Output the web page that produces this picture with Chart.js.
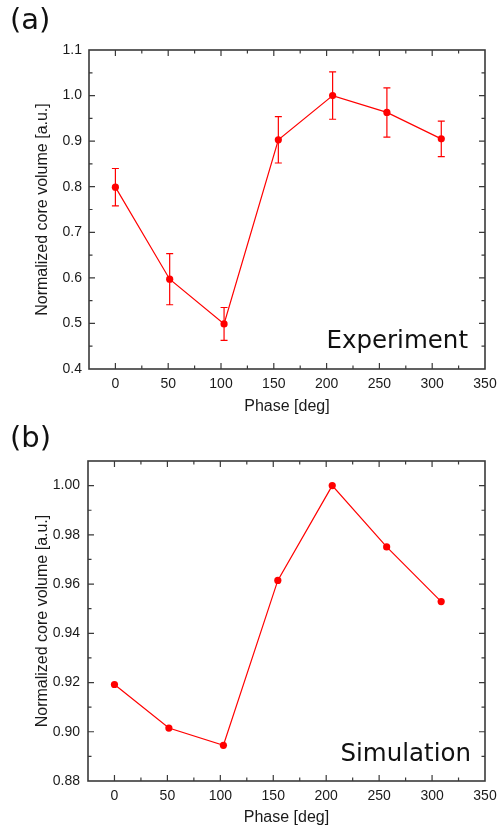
<!DOCTYPE html>
<html><head><meta charset="utf-8">
<script src="https://cdn.jsdelivr.net/npm/chart.js@4/dist/chart.umd.min.js"></script>
<style>
html,body{margin:0;padding:0;background:#fff;}
#wrap{position:relative;width:499px;height:833px;overflow:hidden;background:#fff;}
.box{position:absolute;left:0;width:499px;}
.lbl{position:absolute;font-family:"DejaVu Sans";color:#111;line-height:1;white-space:nowrap;}
</style></head><body>
<div id="wrap">
<div class="box" style="top:0;height:416px"><canvas id="c1"></canvas></div>
<div class="box" style="top:416px;height:417px"><canvas id="c2"></canvas></div>
<div class="lbl" style="left:10px;top:5px;font-size:29px">(a)</div>
<div class="lbl" style="left:10px;top:423px;font-size:29px">(b)</div>
<div class="lbl" style="right:31px;top:328px;font-size:24.5px">Experiment</div>
<div class="lbl" style="right:28px;top:741px;font-size:24.5px">Simulation</div>
</div>
<script>
// ---- data ----
const phases = [0, 51.4, 102.9, 154.3, 205.7, 257.1, 308.6];
const expValues = [0.799, 0.597, 0.499, 0.903, 1.000, 0.963, 0.905];
const expErrors = [0.041, 0.056, 0.036, 0.051, 0.052, 0.054, 0.039];
const simValues = [0.9192, 0.9015, 0.8945, 0.9615, 1.000, 0.9751, 0.9529];
const xTicks = [0, 50, 100, 150, 200, 250, 300, 350];
const expYTicks = [0.4, 0.5, 0.6, 0.7, 0.8, 0.9, 1.0, 1.1];
const simYTicks = [0.88, 0.90, 0.92, 0.94, 0.96, 0.98, 1.00];
const xTitle = 'Phase [deg]';
const yTitle = 'Normalized core volume [a.u.]';

const RED = '#ff0000';
const AXIS = '#3a3a3a';
const TXT = '#1a1a1a';

const framePlugin = {
  id: 'frame',
  afterDraw(chart) {
    const {ctx, chartArea: a, scales: {x, y}} = chart;
    ctx.save();
    ctx.strokeStyle = AXIS;
    ctx.lineWidth = 1.2;
    const xt = x.ticks.map(t => t.value);
    const yt = y.ticks.map(t => t.value);
    const eps = 0.5;
    const drawX = (v, len) => {
      const p = x.getPixelForValue(v);
      if (p <= a.left + eps || p >= a.right - eps) return;
      ctx.beginPath();
      ctx.moveTo(p, a.bottom); ctx.lineTo(p, a.bottom - len);
      ctx.moveTo(p, a.top); ctx.lineTo(p, a.top + len);
      ctx.stroke();
    };
    const drawY = (v, len) => {
      const p = y.getPixelForValue(v);
      if (p <= a.top + eps || p >= a.bottom - eps) return;
      ctx.beginPath();
      ctx.moveTo(a.left, p); ctx.lineTo(a.left + len, p);
      ctx.moveTo(a.right, p); ctx.lineTo(a.right - len, p);
      ctx.stroke();
    };
    xt.forEach(v => drawX(v, 6));
    for (let i = 0; i < xt.length - 1; i++) drawX((xt[i] + xt[i + 1]) / 2, 3.5);
    yt.forEach(v => drawY(v, 6));
    for (let i = 0; i < yt.length - 1; i++) drawY((yt[i] + yt[i + 1]) / 2, 3.5);
    ctx.lineWidth = 1.6;
    ctx.strokeRect(a.left, a.top, a.right - a.left, a.bottom - a.top);
    ctx.restore();
  }
};

const errorPlugin = {
  id: 'errbars',
  beforeDatasetsDraw(chart, args, opts) {
    const errs = opts.errors;
    if (!errs) return;
    const {ctx, scales: {x, y}} = chart;
    const ds = chart.data.datasets[0].data;
    ctx.save();
    ctx.strokeStyle = RED;
    ctx.lineWidth = 1.2;
    ds.forEach((pt, i) => {
      const px = x.getPixelForValue(pt.x);
      const pt1 = y.getPixelForValue(pt.y + errs[i]);
      const pt2 = y.getPixelForValue(pt.y - errs[i]);
      const w = 3.5;
      ctx.beginPath();
      ctx.moveTo(px, pt1); ctx.lineTo(px, pt2);
      ctx.moveTo(px - w, pt1); ctx.lineTo(px + w, pt1);
      ctx.moveTo(px - w, pt2); ctx.lineTo(px + w, pt2);
      ctx.stroke();
    });
    ctx.restore();
  }
};

function makeChart(id, values, errors, yTicks, yMin, yMax, decimals, cfg) {
  return new Chart(document.getElementById(id), {
    type: 'line',
    data: {
      datasets: [{
        data: phases.map((p, i) => ({x: p, y: values[i]})),
        borderColor: RED,
        backgroundColor: RED,
        borderWidth: 1.2,
        pointRadius: 3.6,
        pointBorderWidth: 0,
        pointBackgroundColor: RED,
        tension: 0
      }]
    },
    options: {
      responsive: true,
      maintainAspectRatio: false,
      animation: false,
      events: [],
      layout: {padding: {top: cfg.top, right: 14, left: 0, bottom: 0}},
      plugins: {legend: {display: false}, tooltip: {enabled: false}, errbars: {errors}},
      scales: {
        x: {
          type: 'linear', min: -25, max: 350,
          grid: {display: false, drawTicks: false}, border: {display: false},
          afterBuildTicks: s => { s.ticks = xTicks.map(v => ({value: v})); },
          afterFit: s => { s.height = cfg.xh; s.paddingLeft = 0; s.paddingRight = 0; },
          ticks: {padding: 7, color: TXT, font: {family: 'Liberation Sans', size: 14}, maxRotation: 0,
                  callback: v => String(v)},
          title: {display: true, text: xTitle, color: TXT, font: {family: 'Liberation Sans', size: 16},
                  padding: {top: 0, bottom: cfg.xtp}}
        },
        y: {
          type: 'linear', min: yMin, max: yMax,
          grid: {display: false, drawTicks: false}, border: {display: false},
          afterBuildTicks: s => { s.ticks = yTicks.map(v => ({value: v})); },
          afterFit: s => { s.width = cfg.yw; s.paddingTop = 0; s.paddingBottom = 0; },
          ticks: {padding: cfg.yp, color: TXT, font: {family: 'Liberation Sans', size: 14},
                  callback: v => Number(v).toFixed(decimals)},
          title: {display: true, text: yTitle, color: TXT, font: {family: 'Liberation Sans', size: 16},
                  padding: {top: 33, bottom: 0}}
        }
      }
    },
    plugins: [errorPlugin, framePlugin]
  });
}

makeChart('c1', expValues, expErrors, expYTicks, 0.4, 1.1, 1, {top: 50, xh: 47, yw: 89, xtp: 0, yp: 7});
makeChart('c2', simValues, null, simYTicks, 0.88, 1.01, 2, {top: 45, xh: 52, yw: 88, xtp: 6, yp: 8});
</script>
</body></html>
